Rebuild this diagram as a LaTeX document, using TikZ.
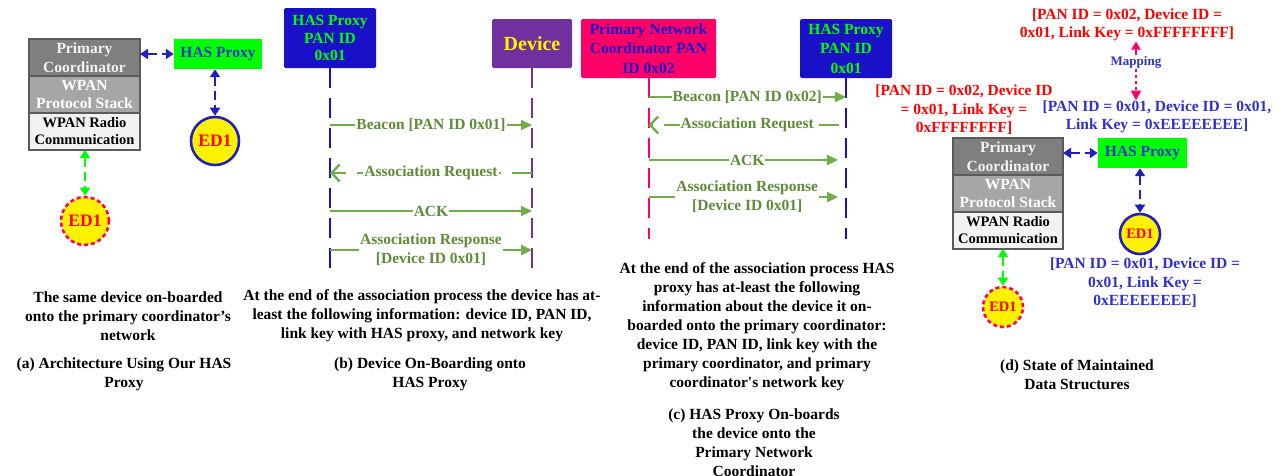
\documentclass[tikz,border=0pt]{standalone}
\usepackage{fontspec}
\setmainfont{Liberation Serif}
\usetikzlibrary{positioning,arrows.meta}

\definecolor{stkEdge}{HTML}{5A5A5A}
\definecolor{stkDark}{HTML}{7F7F7F}
\definecolor{stkMid}{HTML}{A6A6A6}
\definecolor{stkLight}{HTML}{F2F2F2}
\definecolor{proxyGreen}{HTML}{00FF00}
\definecolor{proxyText}{HTML}{3333CC}
\definecolor{linkBlue}{HTML}{2020C0}
\definecolor{hdrBlue}{HTML}{1A10C8}
\definecolor{devPurple}{HTML}{7030A0}
\definecolor{pncPink}{HTML}{FF0066}
\definecolor{msgGreen}{HTML}{70AD47}
\definecolor{msgText}{HTML}{5E8C38}
\definecolor{keyRed}{HTML}{FF0000}
\definecolor{keyBlue}{HTML}{3030CC}

\begin{document}
\begin{tikzpicture}[
  x=1pt, y=-1pt,
  font=\fontsize{15.5}{18.5}\selectfont\bfseries,
  layer/.style={draw=stkEdge, line width=1.2pt, align=center, inner sep=0pt,
                outer sep=0pt, minimum width=111, minimum height=37},
  proxy/.style={fill=proxyGreen, text=proxyText, inner sep=0pt,
                minimum width=88, minimum height=30},
  edsolid/.style={circle, draw=linkBlue, line width=2.6pt, fill=yellow,
                  text=keyRed, inner sep=0pt},
  eddash/.style={circle, draw=pncPink, line width=2.6pt, dash pattern=on 4pt off 3pt,
                 fill=yellow, text=keyRed, inner sep=0pt},
  blink/.style={{Triangle[length=8pt,width=10pt]}-{Triangle[length=8pt,width=10pt]},
                draw=linkBlue, line width=2.6pt, dash pattern=on 9pt off 5pt},
  glink/.style={blink, draw=proxyGreen},
  hdr/.style={rounded corners=1.5pt, align=center, inner sep=0pt, outer sep=0pt},
  life/.style={line width=2pt, dash pattern=on 20pt off 10pt},
  msg/.style={-{Triangle[length=11pt,width=10pt]}, draw=msgGreen, line width=2.2pt},
  req/.style={-{Straight Barb[length=8pt,width=17pt,line width=2.4pt]}, draw=msgGreen,
              line width=2.2pt, dash pattern=on 20pt off 11pt},
  lbl/.style={fill=white, text=msgText, inner sep=1pt, align=center},
  keytxt/.style={align=center, inner sep=0pt, fill=white},
  captxt/.style={align=center, inner sep=0pt, font=\fontsize{15.5}{19}\selectfont\bfseries}
]
\useasboundingbox (0,0) rectangle (1283,475);

% (a) architecture
\node[layer, fill=stkDark, text=stkLight] (pcA) at (84.5,57.5) {Primary\\Coordinator};
\node[layer, fill=stkMid, text=white, below=0pt of pcA] (psA) {WPAN\\Protocol Stack};
\node[layer, fill=stkLight, below=0pt of psA, font=\fontsize{14.5}{17}\selectfont\bfseries] (rcA) {WPAN Radio\\Communication};
\node[proxy] (hasA) at (218,54) {HAS Proxy};
\node[edsolid, minimum size=48, font=\fontsize{17.5}{20}\selectfont\bfseries] (edA) at (215,141) {ED1};
\node[eddash, minimum size=48, font=\fontsize{17.5}{20}\selectfont\bfseries] (edA2) at (85,221) {ED1};
\draw[blink] (pcA.east |- hasA.west) -- (hasA.west);
\draw[blink] (hasA.south -| edA) -- (edA.north);
\draw[glink] (rcA.south -| edA2) -- (edA2.north);

\node[captxt] (capA) at (128,316) {The same device on-boarded\\onto the primary coordinator's\\network};
\node[captxt] (titA) at (124,374) {(a) Architecture Using Our HAS\\Proxy};

% (b) device on-boarding onto HAS proxy
\node[hdr, fill=hdrBlue, text=proxyGreen, minimum width=92, minimum height=60,
      font=\fontsize{15.5}{17.7}\selectfont\bfseries] (hasB) at (330,38) {HAS Proxy\\PAN ID\\0x01};
\node[hdr, fill=devPurple, text=yellow, minimum width=80, minimum height=49,
      font=\fontsize{20}{22}\selectfont\bfseries] (devB) at (532,43.5) {Device};
\coordinate (endB) at (0,270);
\draw[life, draw=hdrBlue] (hasB.south) -- (hasB.south |- endB);
\draw[life, draw=devPurple] (devB.south) -- (devB.south |- endB);

\coordinate (rowB1) at (0,125);
\coordinate (rowB2) at (0,173);
\coordinate (rowB3) at (0,211);
\coordinate (rowB4) at (0,250);
\draw[msg] (hasB |- rowB1) -- node[lbl] {Beacon [PAN ID 0x01]} (devB |- rowB1);
\draw[req] (devB |- rowB2) -- node[lbl] {Association Request} (hasB |- rowB2);
\draw[msg] (hasB |- rowB3) -- node[lbl] {ACK} (devB |- rowB3);
\draw[msg] (hasB |- rowB4) -- node[lbl, font=\fontsize{15.5}{19}\selectfont\bfseries] {Association Response\\{[Device ID 0x01]}} (devB |- rowB4);

\node[captxt] (capB) at (422,316) {At the end of the association process the device has at-\\least the following information: device ID, PAN ID,\\link key with HAS proxy, and network key};
\node[captxt] (titB) at (430,374) {(b) Device On-Boarding onto\\HAS Proxy};

% (c) HAS proxy on-boards the device
\node[hdr, fill=pncPink, text=hdrBlue, minimum width=135, minimum height=59,
      font=\fontsize{15.5}{19.5}\selectfont\bfseries] (pncC) at (648.5,48.5) {Primary Network\\Coordinator PAN\\ID 0x02};
\node[hdr, fill=hdrBlue, text=proxyGreen, minimum width=92, minimum height=59,
      font=\fontsize{15.5}{19.5}\selectfont\bfseries] (hasC) at (846,48.5) {HAS Proxy\\PAN ID\\0x01};
\coordinate (endC) at (0,239);
\draw[life, draw=pncPink] (pncC.south) -- (pncC.south |- endC);
\draw[life, draw=hdrBlue] (hasC.south) -- (hasC.south |- endC);

\coordinate (rowC1) at (0,97);
\coordinate (rowC2) at (0,125);
\coordinate (rowC3) at (0,160);
\coordinate (rowC4) at (0,197);
\draw[msg] (pncC |- rowC1) -- node[lbl] {Beacon [PAN ID 0x02]} (hasC |- rowC1);
\draw[req, shorten <=7pt] (hasC |- rowC2) -- node[lbl] {Association Request} (pncC |- rowC2);
\draw[msg, shorten >=8pt] (pncC |- rowC3) -- node[lbl] {ACK} (hasC |- rowC3);
\draw[msg, shorten >=8pt] (pncC |- rowC4) -- node[lbl, font=\fontsize{15.5}{19}\selectfont\bfseries] {Association Response\\{[Device ID 0x01]}} (hasC |- rowC4);

\node[captxt] (capC) at (757,327) {At the end of the association process HAS\\proxy has at-least the following\\information about the device it on-\\boarded onto the primary coordinator:\\device ID, PAN ID, link key with the\\primary coordinator, and primary\\coordinator\textquotesingle s network key};
\node[captxt] (titC) at (754,443) {(c) HAS Proxy On-boards\\the device onto the\\Primary Network\\Coordinator};

% (d) maintained data structures
\node[layer, fill=stkDark, text=stkLight, minimum width=110] (pcD) at (1008,156.5) {Primary\\Coordinator};
\node[layer, fill=stkMid, text=white, minimum width=110, below=0pt of pcD] (psD) {WPAN\\Protocol Stack};
\node[layer, fill=stkLight, minimum width=110, below=0pt of psD, font=\fontsize{14.5}{17}\selectfont\bfseries] (rcD) {WPAN Radio\\Communication};
\node[proxy, minimum width=89] (hasD) at (1142.5,153) {HAS Proxy};
\node[edsolid, minimum size=40, font=\fontsize{14.5}{17}\selectfont\bfseries] (edD) at (1140,234) {ED1};
\node[eddash, minimum size=40, font=\fontsize{14.5}{17}\selectfont\bfseries] (edD2) at (1003,307) {ED1};
\draw[blink] (pcD.east |- hasD.west) -- (hasD.west);
\draw[blink] (hasD.south -| edD) -- (edD.north);
\draw[glink] (rcD.south -| edD2) -- (edD2.north);

\node[keytxt, text=keyRed] (keyTop) at (1127,25) {[PAN ID = 0x02, Device ID =\\0x01, Link Key = 0xFFFFFFFF]};
\node[keytxt, text=keyRed] (keyLeft) at (964,110) {[PAN ID = 0x02, Device ID\\= 0x01, Link Key =\\0xFFFFFFFF]};
\node[keytxt, text=keyBlue, fill=none] (keyMid) at (1157,117) {[PAN ID = 0x01, Device ID = 0x01,\\Link Key = 0xEEEEEEEE]};
\node[keytxt, text=keyBlue] (keyBot) at (1145,283) {[PAN ID = 0x01, Device ID =\\0x01, Link Key =\\0xEEEEEEEE]};
\node[text=keyBlue, inner sep=1pt, font=\fontsize{13}{15}\selectfont\bfseries] (mapLbl) at (1136,62) {Mapping};
\draw[-{Triangle[length=8pt,width=9pt]}, draw=pncPink, line width=2.6pt] (mapLbl.north) -- (keyTop.south -| mapLbl);
\draw[-{Triangle[length=10pt,width=10pt]}, draw=pncPink, line width=2.6pt, dash pattern=on 3pt off 3pt] (mapLbl.south) -- (keyMid.north -| mapLbl);

\node[captxt] (titD) at (1077,375) {(d) State of Maintained\\Data Structures};
\end{tikzpicture}
\end{document}
